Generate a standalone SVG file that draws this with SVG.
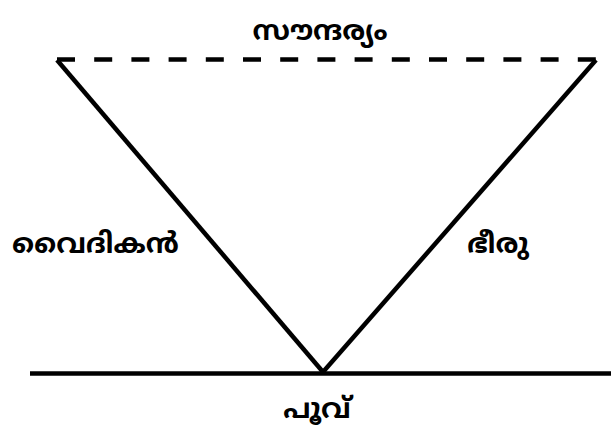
<svg xmlns="http://www.w3.org/2000/svg" width="611" height="432" viewBox="0 0 611 432">
<style>
  .lbl { font-family: "Noto Sans Malayalam", "Noto Sans", "DejaVu Sans", sans-serif; font-weight: bold; font-size: 28px; fill: #000; }
  .ln { stroke: #000; stroke-width: 4.5; fill: none; }
</style>
<rect width="611" height="432" fill="#fff"/>
<g id="connectors">
  <line class="ln" x1="57" y1="59.5" x2="596" y2="59.5" stroke-width="3.5" stroke-dasharray="18 19.2"/>
  <line class="ln" x1="57" y1="60" x2="323" y2="372"/>
  <line class="ln" x1="596" y1="60" x2="323" y2="372"/>
  <line class="ln" x1="30" y1="373.5" x2="611" y2="373.5" stroke-width="5"/>
</g>
<g id="node-top"><text class="lbl" x="320" y="40" text-anchor="middle">സൗന്ദര്യം</text></g>
<g id="node-left"><text class="lbl" x="12" y="253">വൈദികൻ</text></g>
<g id="node-right"><text class="lbl" x="467" y="253">ഭീരു</text></g>
<g id="node-bottom"><text class="lbl" x="317" y="418" text-anchor="middle">പൂവ്</text></g>
</svg>
